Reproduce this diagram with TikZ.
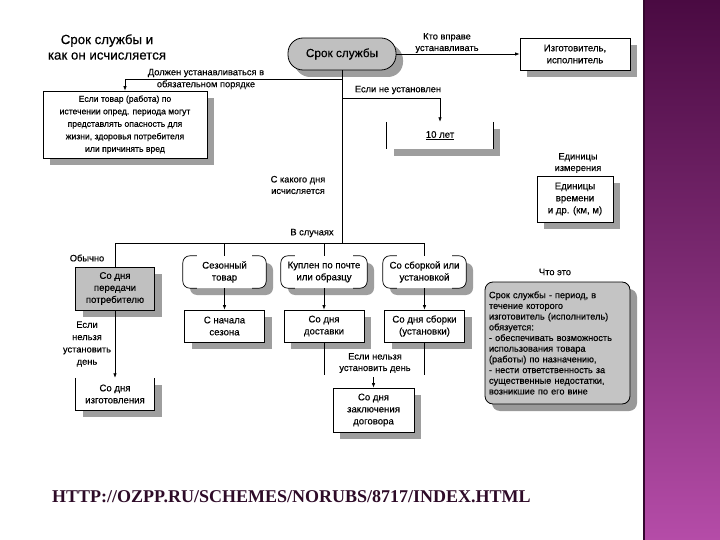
\documentclass[tikz,border=0pt]{standalone}
\usepackage{fontspec}
\setmainfont{Liberation Sans}[FakeBold=0.35]
\newfontfamily\urlfont{Liberation Serif}
\usetikzlibrary{shadows,calc,arrows.meta}
\definecolor{shgray}{HTML}{9E9E9E}
\definecolor{mgray}{HTML}{C0C0C0}
\definecolor{wgray}{HTML}{C4C4C4}
\definecolor{urlcol}{HTML}{2E0B28}
\definecolor{ptop}{HTML}{4A0A42}
\definecolor{pmid}{HTML}{7C2A72}
\definecolor{pbot}{HTML}{B54CA8}
\tikzset{
  ln/.style={line width=0.7pt},
  arr/.style={-{Latex[length=4.5pt,width=3.5pt]}, line width=0.7pt},
  shad/.style={drop shadow={shadow xshift=7pt, shadow yshift=-7pt, fill=shgray, opacity=1}},
  box/.style={draw, fill=white, line width=0.8pt, align=center, inner sep=2pt,
    font=\fontsize{9.6}{12}\selectfont, shad},
  rbox/.style={fill=white, rounded corners=7pt, align=center, inner sep=2pt,
    font=\fontsize{9.6}{12}\selectfont, shad},
  lbl/.style={align=center, inner sep=0pt, font=\fontsize{9.3}{11.5}\selectfont}
}
\newcommand\rbrackets[1]{%
  \draw[ln,rounded corners=7pt] ($(#1.north west)+(14,0)$) -- (#1.north west) -- (#1.south west) -- ($(#1.south west)+(14,0)$);
  \draw[ln,rounded corners=7pt] ($(#1.north east)+(-14,0)$) -- (#1.north east) -- (#1.south east) -- ($(#1.south east)+(-14,0)$);}
\begin{document}
\begin{tikzpicture}[x=1pt,y=-1pt]
\useasboundingbox (0,0) rectangle (720,540);
\fill[white] (0,0) rectangle (720,540);
% purple band
\shade[top color=ptop, bottom color=pbot, middle color=pmid] (643,0) rectangle (720,540);
\fill[ptop!70!black] (643,0) rectangle (645,540);

% title
\node[align=center, inner sep=0pt, font=\fontsize{13.3}{15.5}\selectfont] (title) at (107,47) {Срок службы и\\как он исчисляется};

% main node
\node[box, fill=mgray, rounded corners=15pt, minimum width=108pt, minimum height=32pt,
  font=\fontsize{11.8}{13}\selectfont, drop shadow={shadow xshift=6pt, shadow yshift=-6pt, fill=shgray, opacity=1}] (main) at (342,54) {Срок службы};

\node[box, minimum width=110pt, minimum height=32pt] (izg) at (575,54) {Изготовитель,\\исполнитель};
\draw[arr] (main.east) -- (izg.west);
\node[lbl] (l1) at (447,43) {Кто вправе\\устанавливать};

% left top box
\node[box, minimum width=164pt, minimum height=67pt, font=\fontsize{8.6}{12.5}\selectfont] (esli) at (125,124.5)
 {Если товар (работа) по\\истечении опред. периода могут\\представлять опасность для\\жизни, здоровья потребителя\\или причинять вред};

% 10 let
\node[fill=white, shad, minimum width=106pt, minimum height=27pt, font=\fontsize{9.6}{11}\selectfont] (ten) at (440,135.5) {\underline{10 лет}};
\draw[ln] (ten.north west) -- (ten.south west);
\draw[ln] (ten.north east) -- (ten.south east);

% trunk
\coordinate (br) at (342,243);
\coordinate (j1) at (342,79);
\coordinate (j2) at (342,98);
\draw[ln] (main.south) -- (br);
\draw[arr] (j1) -| (esli.north);
\draw[arr] (j2) -| (ten.north);
\node[lbl] (l2) at (206,79) {Должен устанавливаться в\\[0.5pt]обязательном порядке};
\node[lbl] (l3) at (398,90) {Если не установлен};

% units
\node[lbl] (l4) at (578,163) {Единицы\\измерения};
\node[box, minimum width=76pt, minimum height=46pt] (units) at (575,199) {Единицы\\времени\\и др. (км, м)};

\node[lbl] (l5) at (298,185) {С какого дня\\исчисляется};
\node[lbl] (l6) at (312,233) {В случаях};

% level 1
\node[box, fill=mgray, minimum width=79pt, minimum height=43pt] (pered) at (115,288.5) {Со дня\\передачи\\потребителю};
\node[rbox, minimum width=83pt, minimum height=32pt] (sez) at (224.5,272) {Сезонный\\товар};
\node[rbox, minimum width=86pt, minimum height=32pt] (kupl) at (324,272) {Куплен по почте\\или образцу};
\node[rbox, minimum width=83pt, minimum height=32pt] (sbor) at (424.5,272) {Со сборкой или\\установкой};
\rbrackets{sez}
\rbrackets{kupl}
\rbrackets{sbor}

\draw[ln] (pered.north) |- (br);
\draw[ln] (br) -| (sbor.north);
\draw[ln] (sez.north) -- (sez.north |- br);
\draw[ln] (kupl.north) -- (kupl.north |- br);
\node[lbl] (l7) at (87,258) {Обычно};

% level 2
\node[box, minimum width=80pt, minimum height=32pt] (nach) at (224.5,326) {С начала\\сезона};
\node[box, minimum width=80pt, minimum height=32pt] (dost) at (324,326) {Со дня\\доставки};
\node[box, minimum width=80pt, minimum height=32pt] (sborki) at (424.5,326) {Со дня сборки\\(установки)};
\draw[arr] (sez.south) -- (nach.north);
\draw[arr] (kupl.south) -- (dost.north);
\draw[arr] (sbor.south) -- (sborki.north);

% izgotovleniya
\node[fill=white, shad, align=center, minimum width=79pt, minimum height=32pt, font=\fontsize{9.6}{12}\selectfont] (izgot) at (115,394) {Со дня\\изготовления};
\draw[ln] (izgot.north west) -- (izgot.south west) -- (izgot.south east) -- (izgot.north east);
\draw[arr] (pered.south) -- (izgot.north);
\node[lbl, font=\fontsize{9.3}{12.3}\selectfont] (l8) at (87,344) {Если\\нельзя\\установить\\день};

% zaklyucheniya
\node[box, minimum width=81pt, minimum height=44pt] (zakl) at (373.5,410) {Со дня\\заключения\\договора};
\coordinate (zin) at (373.5,377);
\draw[ln] (dost.south) -- ++(0,33);
\draw[ln] (sborki.south) -- ++(0,33);
\draw[arr] (zin) -- (zakl.north);
\node[lbl] (l9) at (375,363) {Если нельзя\\установить день};

% what
\node[lbl] (l10) at (555,272) {Что это};
\node[draw, line width=0.8pt, fill=wgray, rounded corners=8pt, minimum width=145pt, minimum height=122pt,
  text width=137pt, align=left, inner sep=4pt, font=\fontsize{9.2}{10.7}\selectfont,
  drop shadow={shadow xshift=7pt, shadow yshift=-7pt, fill=gray!80, opacity=1}] (what) at (557.5,343)
 {Срок службы - период, в\\течение которого\\изготовитель (исполнитель)\\обязуется:\\- обеспечивать возможность\\использования товара\\(работы) по назначению,\\- нести ответственность за\\существенные недостатки,\\возникшие по его вине};

% url
\node[anchor=west, inner sep=0pt, text=urlcol, font=\urlfont\bfseries\fontsize{18}{20}\selectfont] (url) at (52,497) {HTTP://OZPP.RU/SCHEMES/NORUBS/8717/INDEX.HTML};
\end{tikzpicture}
\end{document}
